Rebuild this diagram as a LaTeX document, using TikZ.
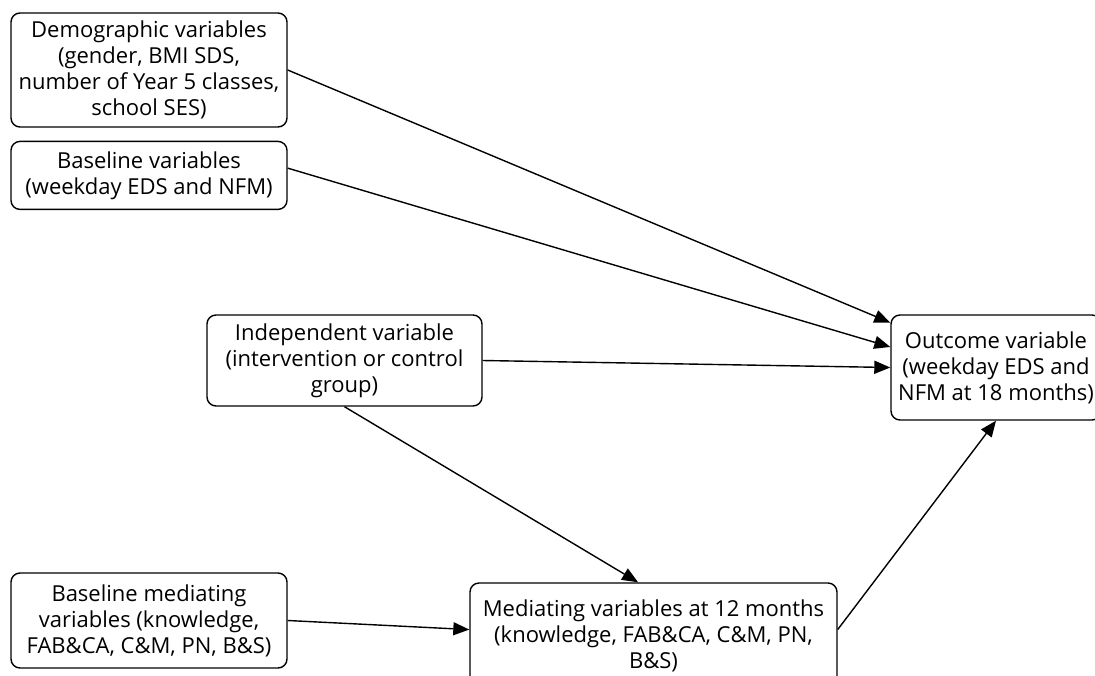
\documentclass[tikz,border=0pt]{standalone}
\usepackage{fontspec}
\setmainfont{Open Sans}
\usepackage{tikz}
\usetikzlibrary{arrows.meta,positioning}

\begin{document}
\begin{tikzpicture}[
  x=1pt, y=-1pt,
  box/.style={draw, line width=1.4pt, rounded corners=9pt, align=center, inner sep=0pt,
    font=\fontsize{22}{26}\selectfont, minimum width=276pt},
  arrow/.style={-{Triangle[length=16pt,width=13pt]}, line width=1.4pt}
]
\useasboundingbox (0,0) rectangle (1095,675);

\node[box, minimum height=114pt] (demo) at (149,70)
  {Demographic variables\\(gender, BMI SDS,\\number of Year 5 classes,\\school SES)};
\node[box, minimum height=68pt, below=13pt of demo] (base)
  {Baseline variables\\(weekday EDS and NFM)};
\node[box, minimum width=275pt, minimum height=91pt] (indep) at (344.5,360.5)
  {Independent variable\\(intervention or control\\group)};
\node[box, minimum height=95pt] (base-med) at (149,620.5)
  {Baseline mediating\\variables (knowledge,\\FAB\&CA, C\&M, PN, B\&S)};
\node[box, minimum width=367pt, minimum height=106pt] (med) at (653.5,636)
  {Mediating variables at 12 months\\(knowledge, FAB\&CA, C\&M, PN,\\B\&S)};
\node[box, minimum width=210pt, minimum height=105pt] (outcome) at (996,367.5)
  {Outcome variable\\(weekday EDS and\\NFM at 18 months)};

\draw[arrow] (demo.east) -- (outcome.157);
\draw[arrow] (base.3) -- (outcome.169);
\draw[arrow] (indep.east) -- (outcome.west);
\draw[arrow] (indep.south) -- (med.106);
\draw[arrow] (base-med.east) -- (med.178);
\draw[arrow] (med.2) -- (outcome.south);
\end{tikzpicture}
\end{document}
